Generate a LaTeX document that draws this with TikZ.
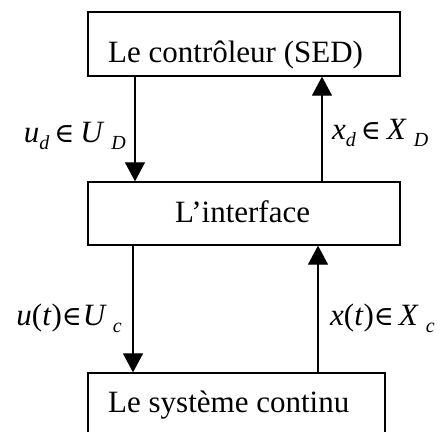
\documentclass[tikz,border=0pt]{standalone}
\usepackage{fontspec}
\setmainfont{Liberation Serif}
\newfontfamily\symbfont{DejaVu Serif}
\usetikzlibrary{arrows.meta}
\newcommand\subsc[1]{\raisebox{-7pt}{\fontsize{20}{20}\selectfont\itshape #1}}
\newcommand\elemof{{\fontsize{27}{27}\symbfont ∈}}
\begin{document}
\begin{tikzpicture}[x=1pt,y=-1pt,
  box/.style={draw,line width=1.3pt,inner sep=0pt},
  txt/.style={font=\fontsize{31}{36}\selectfont,inner sep=0pt,anchor=base west},
  lbl/.style={font=\fontsize{31}{36}\selectfont,inner sep=0pt},
  flow/.style={line width=1.2pt,-{Triangle[width=20pt,length=19pt]}}]
\useasboundingbox (0,0) rectangle (444,431);
\clip (0,0) rectangle (444,431);
\node[box,minimum width=312pt,minimum height=64pt] (ctrl) at (244,44) {};
\node[box,minimum width=312pt,minimum height=63pt] (iface) at (244,213.5) {};
\node[box,minimum width=297pt,minimum height=100pt] (sys) at (236.5,423) {};
\node[txt] (tctrl) at (108,62) {Le contrôleur (SED)};
\node[txt] (tiface) at (175,222) {L’interface};
\node[txt] (tsys) at (108,412) {Le système continu};
\coordinate (a1) at (135,0);
\coordinate (a2) at (322,0);
\coordinate (a3) at (133,0);
\coordinate (a4) at (318,0);
\draw[flow] (ctrl.south -| a1) -- (iface.north -| a1);
\draw[flow] (iface.north -| a2) -- (ctrl.south -| a2);
\draw[flow] (iface.south -| a3) -- (sys.north -| a3);
\draw[flow] (sys.north -| a4) -- (iface.south -| a4);
\node[lbl,anchor=base east] (l1) at (126,142) {\textit{u}\subsc{d}\hspace{5pt}\elemof\hspace{6pt}\textit{U}\hspace{7pt}\subsc{D}};
\node[lbl,anchor=base west] (l2) at (332,139) {\textit{x}\subsc{d}\hspace{5pt}\elemof\hspace{6pt}\textit{X}\hspace{7pt}\subsc{D}};
\node[lbl,anchor=base east] (l3) at (122,325) {\textit{u}(\textit{t})\elemof\hspace{1pt}\textit{U}\hspace{6pt}\subsc{c}};
\node[lbl,anchor=base west] (l4) at (330,325) {\textit{x}(\textit{t})\elemof\hspace{5pt}\textit{X}\hspace{7pt}\subsc{c}};
\end{tikzpicture}
\end{document}
